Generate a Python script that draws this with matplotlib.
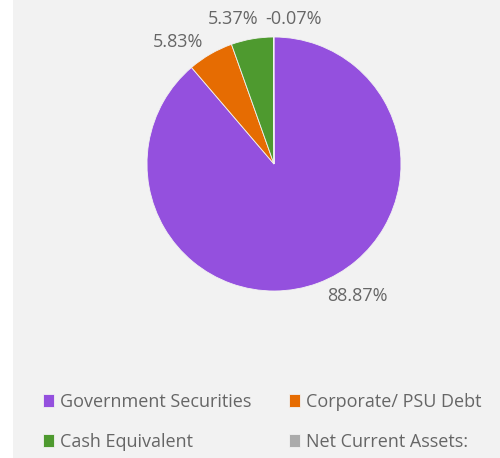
import matplotlib
matplotlib.use("Agg")
import matplotlib.pyplot as plt
from matplotlib.patches import Rectangle

categories = ["Government Securities", "Corporate/ PSU Debt", "Cash Equivalent", "Net Current Assets:"]
values = [88.87, 5.83, 5.37, -0.07]
colors = ["#9450DE", "#E66C02", "#4E9A2F", "#ABABAB"]

plt.rcParams['font.family'] = ['Open Sans', 'DejaVu Sans']

W, H = 500, 458
fig = plt.figure(figsize=(W / 100, H / 100), dpi=100, facecolor="white")
fig.patches.append(Rectangle((13 / W, 0), 1 - 13 / W, 1, transform=fig.transFigure,
                             facecolor="#F2F2F2", edgecolor="none", zorder=-10))

cx, cy, r = 274, 164, 127
ax = fig.add_axes([(cx - r) / W, (H - cy - r) / H, 2 * r / W, 2 * r / H])
ax.set_facecolor("none")
ax.axis("off")

sizes = [abs(v) for v in values]
labels = [f"{v:.2f}%" for v in values]
wedges, texts = ax.pie(sizes, colors=colors, startangle=90, counterclock=False,
                       labels=labels, labeldistance=1.1,
                       wedgeprops=dict(edgecolor="#F2F2F2", linewidth=0.6),
                       textprops=dict(color="#666666", fontsize=13))
ax.set_xlim(-1, 1)
ax.set_ylim(-1, 1)

# label placement (axes data units, pie radius = 1)
place = [(0.417, -1.039, "left"), (-0.559, 0.961, "right"),
         (-0.126, 1.142, "right"), (-0.071, 1.142, "left")]
for t, (x, y, ha) in zip(texts, place):
    t.set_clip_on(False)
    t.set_position((x, y))
    t.set_ha(ha)
    t.set_va("center")

order = [0, 2, 1, 3]
leg = fig.legend([wedges[i] for i in order], [categories[i] for i in order],
                 loc="upper left", bbox_to_anchor=(36 / W, 1 - 386 / H),
                 ncol=2, frameon=False, fontsize=13, labelcolor="#666666",
                 handlelength=0.6, handleheight=0.72, handletextpad=0.35,
                 columnspacing=2.05, labelspacing=1.2, borderaxespad=0)

fig.savefig("out.png", dpi=100, facecolor="white")
